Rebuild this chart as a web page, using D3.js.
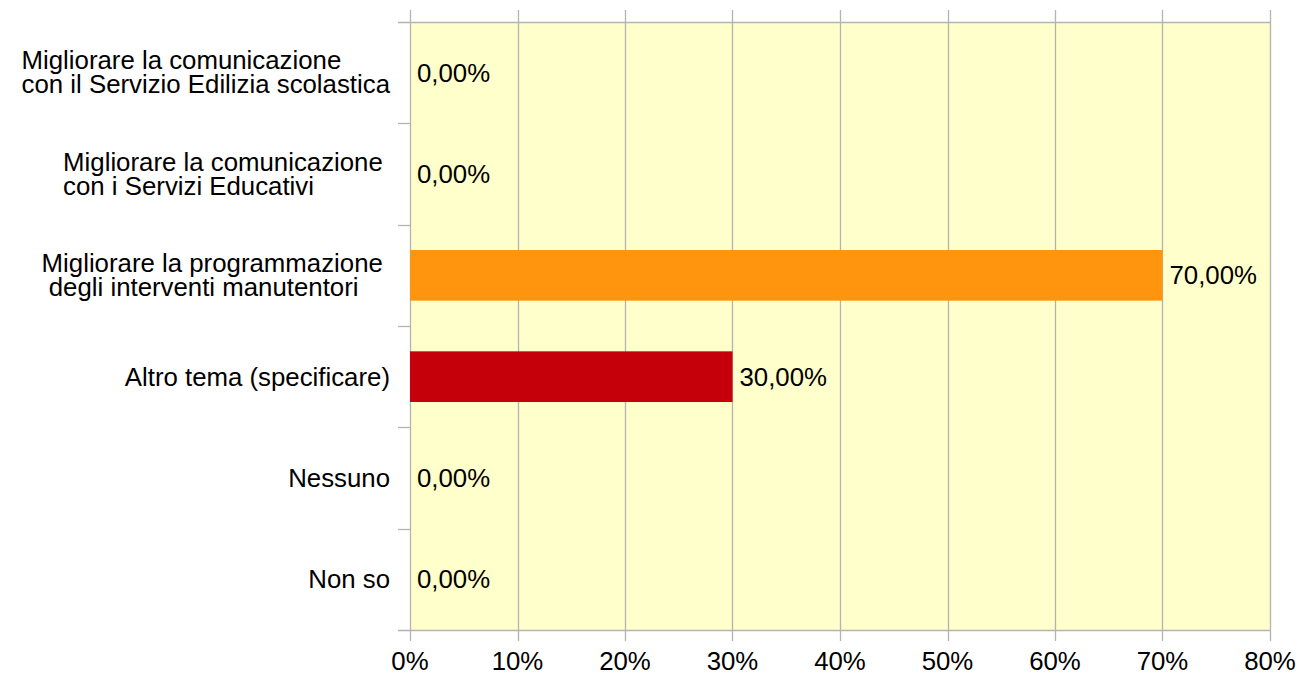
<!DOCTYPE html>
<html>
<head>
<meta charset="utf-8">
<script src="https://cdn.jsdelivr.net/npm/d3@7"></script>
<style>
  body { margin: 0; background: #ffffff; }
  svg { display: block; font-family: "Liberation Sans", Arial, sans-serif; }
</style>
</head>
<body>
<svg id="barChart"></svg>
<script>
// categories, each one split in the lines it is drawn on
var categories = [
    ["Migliorare la comunicazione ", "con il Servizio Edilizia scolastica"],
    ["Migliorare la comunicazione ", "con i Servizi Educativi"],
    ["Migliorare la programmazione ", " degli interventi manutentori"],
    ["Altro tema (specificare)"],
    ["Nessuno"],
    ["Non so"]
];

// share of answers for each category
var values = [0, 0, 0.70, 0.30, 0, 0];

// value labels shown next to the bars
var valueLabels = ["0,00%", "0,00%", "70,00%", "30,00%", "0,00%", "0,00%"];

// x axis ticks
var xTicks = [0, 0.1, 0.2, 0.3, 0.4, 0.5, 0.6, 0.7, 0.8];

var barColors = ["#ff420e", "#ffd320", "#ff950e", "#c5000b", "#7e0021", "#83caff"];

var initGraph = function()
{
    //the size of the screen
    var screen = {width:1298, height:673};

    //how much space will be on each side of the graph
    var margins = {top:22, bottom:43, left:410, right:28};

    var graph =
    {
        width:screen.width-margins.left-margins.right,
        height:screen.height-margins.top-margins.bottom
    };

    var fontSize = 25.8;
    var gridColor = "#b3b3b3";

    var svg = d3.select("svg#barChart")
        .attr("width",screen.width)
        .attr("height",screen.height);

    var xScale = d3.scaleLinear()
        .domain([0, 0.8])
        .range([0, graph.width]);

    var yScale = d3.scaleBand()
        .domain(d3.range(categories.length))
        .range([0, graph.height])
        .padding(0);

    var g = svg.append("g")
        .attr("transform","translate("+margins.left+","+margins.top+")");

    //plot background
    g.append("rect")
        .attr("x",0)
        .attr("y",0)
        .attr("width",graph.width)
        .attr("height",graph.height)
        .attr("fill","#ffffcc");

    //vertical grid lines, they stick out above and below the plot
    g.append("g")
        .selectAll("line")
        .data(xTicks)
        .enter()
        .append("line")
        .attr("x1",function(d){return Math.round(xScale(d))+0.5;})
        .attr("x2",function(d){return Math.round(xScale(d))+0.5;})
        .attr("y1",-12)
        .attr("y2",graph.height+11)
        .attr("stroke",gridColor)
        .attr("stroke-width",1.3);

    //horizontal lines at top and bottom of the plot
    g.append("g")
        .selectAll("line")
        .data([0, graph.height])
        .enter()
        .append("line")
        .attr("x1",-12)
        .attr("x2",graph.width)
        .attr("y1",function(d){return Math.round(d)+0.5;})
        .attr("y2",function(d){return Math.round(d)+0.5;})
        .attr("stroke",gridColor)
        .attr("stroke-width",1.3);

    //category ticks on the left axis
    g.append("g")
        .selectAll("line")
        .data(d3.range(1, categories.length))
        .enter()
        .append("line")
        .attr("x1",-12)
        .attr("x2",0)
        .attr("y1",function(i){return Math.round(yScale(i))+0.5;})
        .attr("y2",function(i){return Math.round(yScale(i))+0.5;})
        .attr("stroke",gridColor)
        .attr("stroke-width",1.3);

    //bars
    var bw = yScale.bandwidth();
    g.append("g")
        .selectAll("rect")
        .data(values)
        .enter()
        .append("rect")
        .attr("x",0)
        .attr("y",function(d,i){return yScale(i)+bw*0.25;})
        .attr("width",function(d){return xScale(d);})
        .attr("height",bw*0.5)
        .attr("fill",function(d,i){return barColors[i];});

    //value labels
    g.append("g")
        .selectAll("text")
        .data(values)
        .enter()
        .append("text")
        .text(function(d,i){return valueLabels[i];})
        .attr("x",function(d){return xScale(d)+7;})
        .attr("y",function(d,i){return yScale(i)+bw/2+9;})
        .attr("font-size",fontSize)
        .attr("fill","#000");

    //x axis labels
    g.append("g")
        .selectAll("text")
        .data(xTicks)
        .enter()
        .append("text")
        .text(function(d){return d3.format(".0%")(d);})
        .attr("x",function(d){return xScale(d);})
        .attr("y",graph.height+40)
        .attr("text-anchor","middle")
        .attr("font-size",fontSize)
        .attr("fill","#000");

    //category labels: lines left aligned, block right aligned
    var lineGap = 24;
    var labelRight = -20;
    var labels = g.append("g");
    categories.forEach(function(lines, i)
    {
        var cy = yScale(i)+bw/2;
        var firstBase = cy + 9 - (lines.length-1)*lineGap/2 - (lines.length>1 ? 0.4 : 0);
        var lab = labels.append("text")
            .attr("font-size",fontSize)
            .attr("fill","#000")
            .attr("xml:space","preserve")
            .style("white-space","pre");
        var spans = lines.map(function(line, k)
        {
            return lab.append("tspan")
                .text(line)
                .attr("y",firstBase+k*lineGap);
        });
        var widest = d3.max(spans, function(s){return s.node().getComputedTextLength();});
        spans.forEach(function(s){ s.attr("x",labelRight-widest); });
    });
};

initGraph();
</script>
</body>
</html>
